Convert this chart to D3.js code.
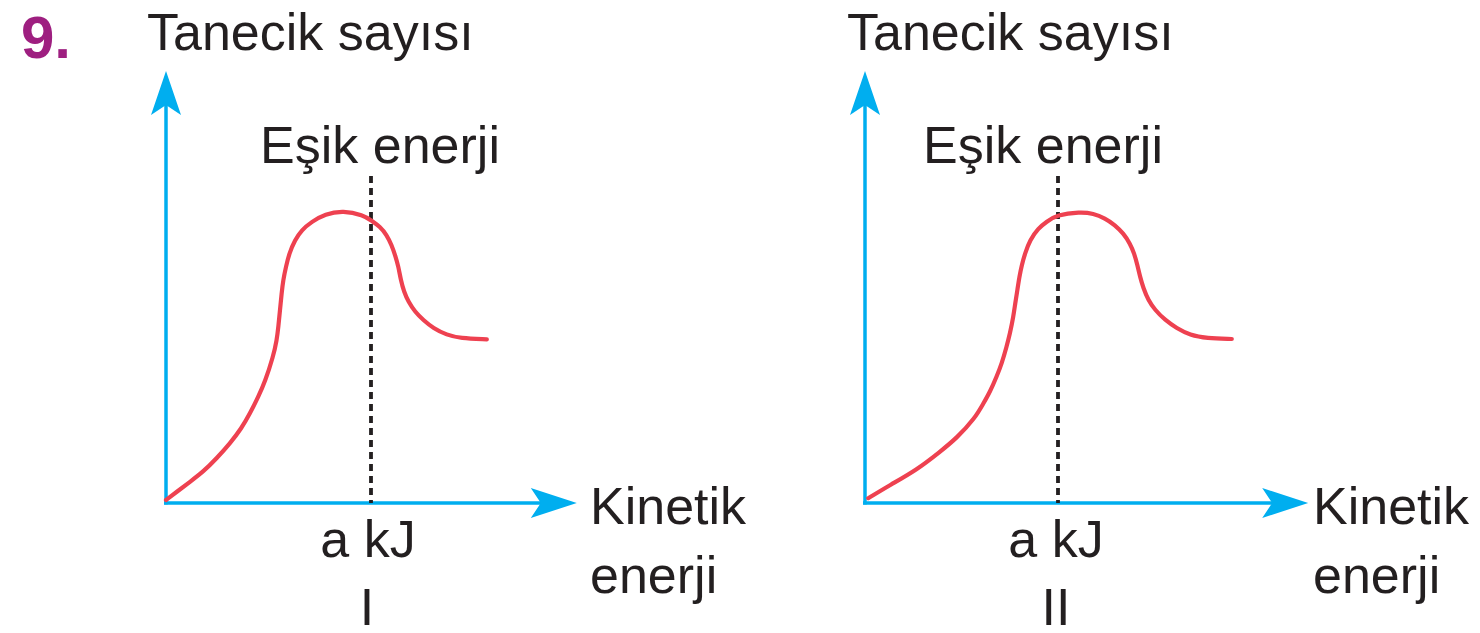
<!DOCTYPE html>
<html>
<head>
<meta charset="utf-8">
<script src="https://cdn.jsdelivr.net/npm/d3@7"></script>
<style>
  html, body { margin: 0; padding: 0; background: #ffffff; }
  svg { display: block; }
  text { font-family: "Liberation Sans", Arial, Helvetica, sans-serif; fill: #231f20; }
</style>
</head>
<body>
<svg id="chart" width="1480" height="633"></svg>
<script>
// Kinetic energy (x) and particle count (y) for the two distributions, in arbitrary units
const energyI  = [0, 2.7, 6, 9.3, 12.7, 16, 18.9, 21, 23.1, 24.75, 26.8, 27.7, 28.1, 28.5, 28.9, 29.3, 30, 30.8, 32.25, 33.9, 36.4, 39.75, 44.3, 49.3, 51.4, 53.5, 55.2, 56.4, 57.4, 58.1, 58.7, 59.5, 60.6, 62.25, 64.3, 66.8, 70.2, 73.5, 80.2];
const countI   = [0.75, 2.8, 5.3, 7.8, 11.2, 14.9, 18.7, 22.4, 26.6, 30.3, 36.6, 40.75, 44.1, 48.25, 52.4, 55.75, 59.1, 62.4, 65.75, 68.25, 70.3, 72.25, 73.1, 72, 70.6, 69.1, 67, 64.5, 61.6, 59.1, 55.75, 52.8, 50.3, 47.8, 45.75, 43.7, 42, 41.2, 40.9];

const energyII = [0.8, 6.25, 12.9, 18.75, 22.9, 27.5, 29.6, 31.25, 32.9, 34.2, 35.4, 36.25, 37.1, 37.55, 38.1, 38.6, 39.2, 40, 41.25, 43.3, 45.4, 47.9, 53.75, 57.1, 60, 62.5, 64.6, 66.25, 67.3, 68.1, 68.75, 69.6, 70.8, 72.5, 75, 77.9, 81.25, 85.4, 91.7];
const countII  = [1.2, 4.5, 8.25, 12.8, 16.2, 21.2, 24.9, 27.8, 31.6, 34.9, 39.1, 42.4, 46.6, 49.9, 53.25, 56.6, 59.5, 62.4, 65.75, 68.7, 70.3, 72, 72.8, 72.4, 71.2, 69.5, 67.4, 64.9, 62.4, 59.5, 56.6, 53.7, 50.75, 48.25, 45.75, 43.7, 42, 41.2, 41];

// Threshold energy ("a kJ") for each graph
const threshold = [51.25, 48.25];
const thresholdTop = 81.75;

// Axis extents
const xAxisMax = [102.7, 110.8];
const yAxisMax = 108;

// Text
const questionNo = "9.";
const yTitle = "Tanecik sayısı";
const thresholdTitle = "Eşik enerji";
const xTitle = ["Kinetik", "enerji"];
const tickLabel = "a kJ";
const panelNames = ["I", "II"];

// Layout of each panel (pixel positions)
const panels = [
  { x0: 166, energy: energyI, count: countI, yTitleX: 147, thrTitleX: 380, xTitleX: 590, nameX: 367, tickX: 368 },
  { x0: 865, energy: energyII, count: countII, yTitleX: 847, thrTitleX: 1043, xTitleX: 1313, nameX: 1056, tickX: 1056 }
];

const AXIS = "#00aeef";
const CURVE = "#ee4150";
const DARK = "#231f20";
const FS = 52;

const svg = d3.select("#chart");

svg.append("text")
  .attr("x", 21).attr("y", 58)
  .attr("font-size", 60).attr("font-weight", "bold")
  .style("fill", "#9e1f80")
  .text(questionNo);

// Arrowhead with a concave back, pointing along +x in local coords
function arrowPath(len, half, notch) {
  return `M0,0 L${-len},${-half} L${-len + notch},0 L${-len},${half} Z`;
}

panels.forEach((p, i) => {
  const x = d3.scaleLinear().domain([0, 100]).range([p.x0, p.x0 + 400]);
  const y = d3.scaleLinear().domain([0, 100]).range([503, 103]);
  const g = svg.append("g");

  // axes
  g.append("line")
    .attr("x1", x(0) - 2).attr("y1", y(0))
    .attr("x2", x(xAxisMax[i]) - 30).attr("y2", y(0))
    .attr("stroke", AXIS).attr("stroke-width", 3.5);
  g.append("line")
    .attr("x1", x(0)).attr("y1", y(0) + 1.5)
    .attr("x2", x(0)).attr("y2", y(yAxisMax) + 30)
    .attr("stroke", AXIS).attr("stroke-width", 3.5);
  g.append("path")
    .attr("d", arrowPath(46, 15, 10))
    .attr("transform", `translate(${x(xAxisMax[i])},${y(0)})`)
    .attr("fill", AXIS);
  g.append("path")
    .attr("d", arrowPath(44, 15, 10))
    .attr("transform", `translate(${x(0)},${y(yAxisMax)}) rotate(-90)`)
    .attr("fill", AXIS);

  // threshold line
  g.append("line")
    .attr("x1", x(threshold[i])).attr("x2", x(threshold[i]))
    .attr("y1", y(thresholdTop)).attr("y2", y(0))
    .attr("stroke", DARK).attr("stroke-width", 3.8)
    .attr("stroke-dasharray", "7,5");

  // distribution curve (smoothed B-spline through the sampled points)
  const pts = p.energy.map((e, k) => [e, p.count[k]]);
  const line = d3.line()
    .x(d => x(d[0])).y(d => y(d[1]))
    .curve(d3.curveBasis);
  g.append("path")
    .attr("d", line(pts))
    .attr("fill", "none")
    .attr("stroke", CURVE).attr("stroke-width", 4.2)
    .attr("stroke-linecap", "round").attr("stroke-linejoin", "round");

  // labels
  g.append("text").attr("x", p.yTitleX).attr("y", 50).attr("font-size", FS).text(yTitle);
  g.append("text").attr("x", p.thrTitleX).attr("y", 163).attr("font-size", FS)
    .attr("text-anchor", "middle").text(thresholdTitle);
  g.append("text").attr("x", p.xTitleX).attr("y", 524).attr("font-size", FS).text(xTitle[0]);
  g.append("text").attr("x", p.xTitleX).attr("y", 593).attr("font-size", FS).text(xTitle[1]);
  g.append("text").attr("x", p.tickX).attr("y", 557).attr("font-size", FS)
    .attr("text-anchor", "middle").text(tickLabel);
  g.append("text").attr("x", p.nameX).attr("y", 625).attr("font-size", FS)
    .attr("text-anchor", "middle").text(panelNames[i]);
});
</script>
</body>
</html>
